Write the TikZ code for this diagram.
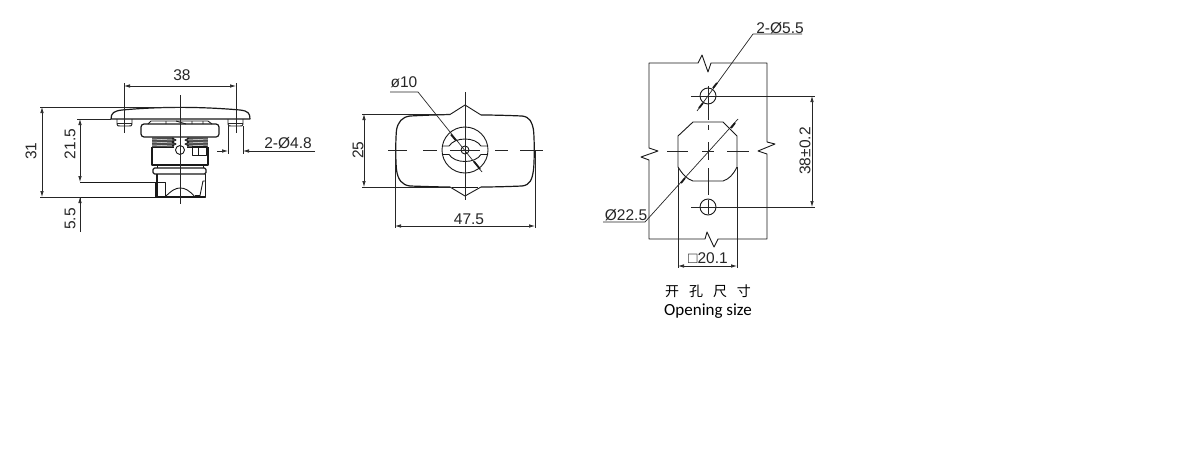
\documentclass[tikz,border=0pt]{standalone}
\usepackage{fontspec}
\setmainfont{Liberation Sans}
\newfontfamily\cjk{Noto Sans CJK SC}
\newfontfamily\latinb{Carlito}
\usetikzlibrary{arrows.meta}
\tikzset{
 ln/.style={draw=black!90,line width=0.9pt,line join=round},
 thk/.style={draw=black!90,line width=1.2pt,line join=round},
 thin/.style={draw=black!85,line width=0.7pt},
 dimd/.style={thin,{Latex[length=6pt,width=3.5pt]}-{Latex[length=6pt,width=3.5pt]}},
 dimr/.style={thin,-{Latex[length=6pt,width=3.5pt]}},
 lbl/.style={inner sep=0pt,text=black!85,font=\fontsize{15.5}{15.5}\selectfont},
 rot/.style={lbl,rotate=90},
}
\begin{document}
\begin{tikzpicture}[x=1pt,y=-1pt]
\useasboundingbox (0,0) rectangle (1180,450);
% ---------- side view ----------
\draw[thk] (111,119) .. controls (111,113) and (114,111) .. (122,110) .. controls (160,106.5) and (200,106.5) .. (240,110) .. controls (248,111) and (250,113) .. (250,119) -- cycle;
\draw[ln] (117,119) -- (117,124) .. controls (117,126) and (118,126) .. (120,126) -- (129,126) .. controls (131,126) and (132,126) .. (132,124) -- (132,119);
\draw[ln] (228,119) -- (228,124) .. controls (228,126) and (229,126) .. (231,126) -- (240,126) .. controls (242,126) and (243,126) .. (243,124) -- (243,119);
\draw[thin] (117,123) -- (132,123) (228,123) -- (243,123);
% flange
\draw[thk,rounded corners=3pt] (141,124) rectangle (219,137);
\draw[ln] (148,124) -- (151,121) -- (208,121) -- (212,124);
\draw[ln] (166,121)--(166,124) (176,121)--(186,124) (192,121)--(192,124) (203,121)--(203,124);
% threads
\fill[black!70] (152,137) rectangle (174,147);
\fill[black!70] (187,137) rectangle (208,147);
\foreach \yy in {139,142,145}{
 \draw[white,line width=0.5pt] (152,\yy) -- (172,\yy+1);
 \draw[white,line width=0.5pt] (188,\yy+1) -- (208,\yy);
}
\draw[ln] (172,138) -- (176,140) -- (172,142) -- (176,144) -- (172,146);
\draw[ln] (189,138) -- (185,140) -- (189,142) -- (185,144) -- (189,146);
% body
\draw[thk] (152,147) -- (152,165) -- (208,165) -- (208,147);
\draw[ln] (152,147) -- (174,147) (187,147) -- (208,147);
\draw[ln] (192,146) rectangle (206,155);
\draw[ln] (198,146) -- (198,155);
\draw[ln] (180,150) circle (4.5);
\draw[ln] (157,165) -- (157,168) (203,165) -- (203,168);
\draw[thk,rounded corners=1.5pt] (153,168) rectangle (206,174);
% lower
\draw[thk] (157,174) -- (157,197) -- (205.5,197) -- (205.5,174);
\draw[ln] (155,182) -- (165,182) -- (165,197);
\draw[ln] (165,197) .. controls (172,190) and (176,188) .. (180,188) .. controls (185,188) and (189,190) .. (195,197);
\draw[ln] (195,195.5) -- (200,195.5) -- (203,181) -- (205.5,181);
\draw[ln] (80,182) -- (155,182);
\draw[ln] (78,197) -- (157,197);
\draw[ln] (155,182) -- (155,197);
% centre line
\draw[thin] (180,95) -- (180,204);
% dims
\draw[thin] (124,83) -- (124,133) (236,83) -- (236,133);
\draw[dimd] (124,86) -- (236,86);
\node[lbl] (t38) at (182,75) {38};
\draw[thin] (40,107) -- (180,107) ;
\draw[dimd] (42,107) -- (42,197);
\draw[thin] (40,197) -- (80,197);
\node[rot] (t31) at (31,151) {31};
\draw[thin] (77,119) -- (111,119);
\draw[dimd] (80,119) -- (80,182);
\node[rot] (t215) at (70,144) {21.5};
\draw[thin] (80,232) -- (80,197);
\draw[dimr] (80,210) -- (80,197);
\node[rot] (t55) at (70,219) {5.5};
\draw[thin] (228,126) -- (228,154) (243,126) -- (243,154);
\draw[dimr] (217,151) -- (228,151);
\draw[dimr] (315,151) -- (243,151);
\node[lbl] (t48) at (288,143) {2-Ø4.8};
% ---------- front view ----------
\draw[thk] (450,114.5) .. controls (430,115) and (420,115.5) .. (410,116) .. controls (402,117) and (398,122) .. (396.5,130) .. controls (395.5,140) and (395.5,160) .. (396.5,170) .. controls (398,180) and (402,185) .. (410,186) .. controls (425,186.5) and (440,187) .. (450,187);
\draw[thk] (481,187) .. controls (495,187) and (510,186.5) .. (522,186) .. controls (530,185) and (532,180) .. (533.5,170) .. controls (534.5,160) and (534.5,140) .. (533.5,130) .. controls (532,122) and (530,117) .. (522,116) .. controls (510,115.5) and (495,115) .. (481,115);
\draw[ln] (450,114.5) -- (465,105) -- (481,115);
\draw[ln] (450,187) -- (465,196) -- (481,187);
\draw[ln] (452,187) -- (478,187);
\draw[ln] (465,150) circle (23);
\draw[ln] (465,150) circle (4);
\draw[ln] (442.5,146) -- (449,146) .. controls (452,141.5) and (458,139) .. (465,139) .. controls (472,139) and (478,141.5) .. (481,146) -- (487.5,146);
\draw[ln] (442.5,154.5) -- (449,154.5) .. controls (452,159) and (458,161.5) .. (465,161.5) .. controls (472,161.5) and (478,159) .. (481,154.5) -- (487.5,154.5);
\draw[thin] (465,92) -- (465,200);
\draw[thin] (388,150) -- (407,150) (423,150) -- (437,150) (450,150) -- (480,150) (495,150) -- (508,150) (520,150) -- (543,150);
% leader 10
\draw[thin] (390,92) -- (418,92) -- (482,172);
\draw[line width=1.8pt,black!90] (451,134.5) -- (456,140.5);
\draw[line width=1.8pt,black!90] (474,161.5) -- (480,169);
\node[lbl] (t10) at (404,82) {ø10};
% dims
\draw[thin] (362,114) -- (450,114) (362,187) -- (450,187);
\draw[dimd] (364,114) -- (364,187);
\node[rot] (t25) at (358,150) {25};
\draw[thin] (395,150) -- (395,228) (535,150) -- (535,228);
\draw[dimd] (395,226) -- (535,226);
\node[lbl] (t475) at (469,219) {47.5};
% ---------- opening ----------
\draw[ln] (649,148) -- (649,63) -- (698,63) -- (702,55) -- (708,72) -- (711,63) -- (767,63) -- (767,142) -- (775,144) -- (758,151) -- (767,154) -- (767,239) -- (718,239) -- (714,247) -- (707,232) -- (705,239) -- (649,239) -- (649,160) -- (641,157) -- (658,151) -- cycle;
\draw[ln] (708,96) circle (8);
\draw[ln] (708,207) circle (8);
\draw[ln] (678,136) -- (693,122) -- (723,122) -- (737,136) -- (737,167) .. controls (733,175) and (729,179) .. (723,181) -- (693,181) .. controls (687,179) and (683,175) .. (678,167) -- cycle;
\draw[thin] (678,167) -- (678,268) (737,167) -- (737,268);
\draw[dimd] (678,266) -- (737,266);
\node[lbl] (t201) at (708,258) {□20.1};
\draw[thin] (691,96) -- (815,96) (691,207) -- (815,207);
\draw[dimd] (812,96) -- (812,207);
\node[rot] (t38b) at (805,151) {38±0.2};
\draw[thin] (667,151) -- (688,151) (702,151) -- (714,151) (727,151) -- (749,151);
\draw[thin] (708,86) -- (708,120) (708,125) -- (708,130) (708,142) -- (708,160) (708,168) -- (708,195) (708,200) -- (708,214);
% leaders
\draw[thin] (802,34) -- (753,34) -- (697,111);
\draw[line width=1.8pt,black!90] (713,88) -- (717,83);
\draw[line width=1.8pt,black!90] (703,103) -- (699,108);
\draw[thin] (603,222) -- (645,222) -- (738,119);
\draw[line width=1.8pt,black!90] (731,128) -- (735,123);
\draw[line width=1.8pt,black!90] (685,178) -- (681,183);
\node[lbl] (t55b) at (780,28) {2-Ø5.5};
\node[lbl] (t225) at (626,215) {Ø22.5};
\node[inner sep=0pt,text=black,font=\cjk\fontsize{14}{14}\selectfont] (tc) at (708,291) {开\hspace{10pt}孔\hspace{10pt}尺\hspace{10pt}寸};
\node[inner sep=0pt,text=black,font=\latinb\fontsize{17}{17}\selectfont] (te) at (708,311) {Opening size};
\end{tikzpicture}
\end{document}
